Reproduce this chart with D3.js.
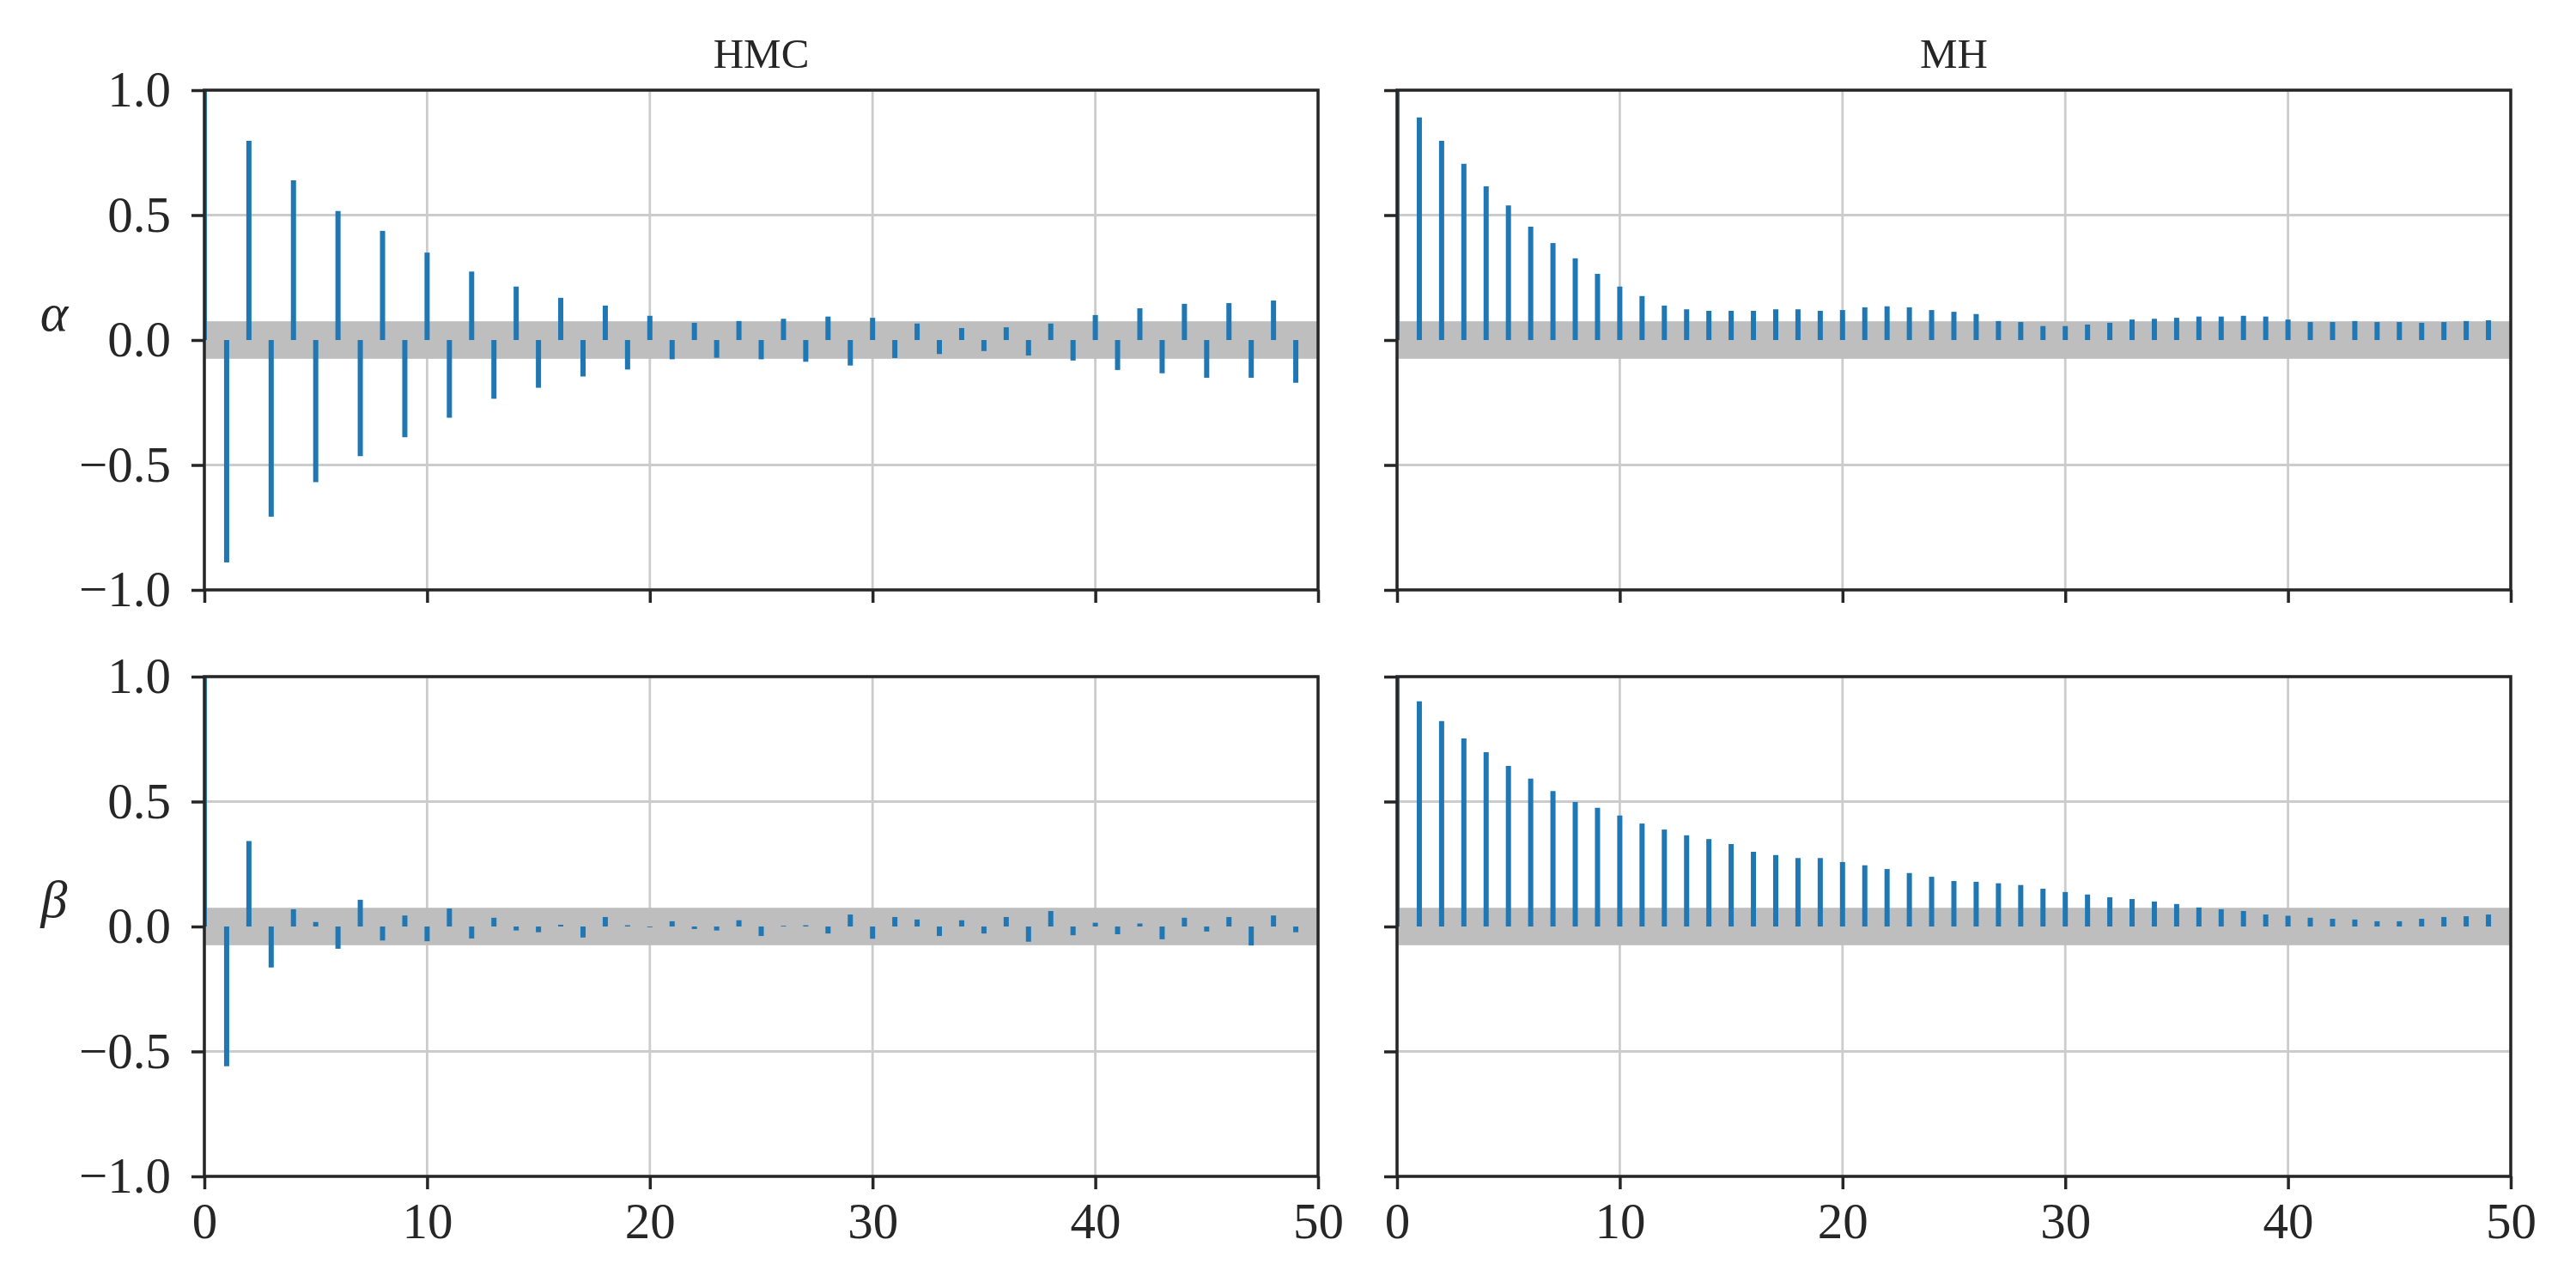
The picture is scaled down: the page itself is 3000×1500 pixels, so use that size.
<!DOCTYPE html>
<html>
<head>
<meta charset="utf-8">
<script src="https://cdn.jsdelivr.net/npm/d3@7"></script>
<style>
body { margin: 0; background: #fff; }
</style>
</head>
<body>
<svg width="3000" height="1500"></svg>
<script>
// autocorrelation per lag, lag 0..49
var lags = d3.range(0, 50);

var hmcAlpha = [1.0, -0.89, 0.797, -0.707, 0.639, -0.569, 0.516, -0.465, 0.437, -0.389,
    0.350, -0.311, 0.274, -0.235, 0.214, -0.191, 0.169, -0.146, 0.138, -0.118,
    0.097, -0.077, 0.069, -0.071, 0.076, -0.077, 0.085, -0.087, 0.094, -0.102,
    0.089, -0.072, 0.066, -0.056, 0.048, -0.044, 0.051, -0.062, 0.066, -0.082,
    0.100, -0.120, 0.127, -0.133, 0.145, -0.151, 0.148, -0.151, 0.158, -0.171];

var mhAlpha = [1.0, 0.891, 0.797, 0.705, 0.615, 0.539, 0.454, 0.388, 0.327, 0.265,
    0.214, 0.176, 0.138, 0.123, 0.117, 0.117, 0.117, 0.123, 0.123, 0.117,
    0.120, 0.131, 0.135, 0.131, 0.120, 0.113, 0.104, 0.076, 0.072, 0.056,
    0.056, 0.062, 0.069, 0.082, 0.085, 0.089, 0.094, 0.094, 0.097, 0.094,
    0.082, 0.072, 0.072, 0.076, 0.072, 0.072, 0.069, 0.072, 0.076, 0.079];

var hmcBeta = [1.0, -0.559, 0.342, -0.164, 0.069, 0.018, -0.089, 0.107, -0.056, 0.044,
    -0.059, 0.072, -0.048, 0.035, -0.016, -0.023, 0.007, -0.044, 0.038, 0.005,
    -0.003, 0.021, -0.010, -0.016, 0.025, -0.038, 0.003, 0.005, -0.028, 0.048,
    -0.049, 0.038, 0.028, -0.038, 0.025, -0.028, 0.038, -0.061, 0.062, -0.035,
    0.015, -0.031, 0.012, -0.051, 0.035, -0.020, 0.038, -0.076, 0.044, -0.023];

var mhBeta = [1.0, 0.901, 0.822, 0.753, 0.698, 0.643, 0.592, 0.542, 0.498, 0.475,
    0.444, 0.412, 0.388, 0.365, 0.350, 0.330, 0.299, 0.286, 0.274, 0.274,
    0.258, 0.245, 0.230, 0.214, 0.199, 0.182, 0.179, 0.173, 0.166, 0.151,
    0.138, 0.128, 0.117, 0.110, 0.100, 0.090, 0.076, 0.069, 0.062, 0.048,
    0.043, 0.035, 0.031, 0.028, 0.021, 0.021, 0.031, 0.038, 0.041, 0.048];

var samplers = ['HMC', 'MH'];
var params = ['\u03b1', '\u03b2'];
var series = [[hmcAlpha, mhAlpha], [hmcBeta, mhBeta]];
var band = 0.075;   // confidence band half width
var xTicks = [0, 10, 20, 30, 40, 50];
var yTicks = [-1, -0.5, 0, 0.5, 1];

var svg = d3.select('svg');
var defs = svg.append('defs');

var colX = [238, 1627];
var rowY = [105, 788];
var w = 1297;
var h = 582;
var ink = '#262626';
var font = '"Liberation Serif", "DejaVu Serif", serif';

var x = d3.scaleLinear().domain([0, 50]).range([0, w]);
var y = d3.scaleLinear().domain([-1, 1]).range([h, 0]);

defs.append('clipPath')
    .attr('id', 'plotclip')
    .append('rect')
    .attr('width', w)
    .attr('height', h);

function styleAxis(sel) {
    sel.select('.domain').remove();
    sel.selectAll('.tick line')
        .attr('stroke', ink)
        .attr('stroke-width', 3.5);
    sel.selectAll('.tick text')
        .attr('fill', ink)
        .style('font-family', font)
        .style('font-size', '59px');
}

for (var r = 0; r < 2; r++) {
    for (var c = 0; c < 2; c++) {
        var vals = series[r][c];
        var g = svg.append('g')
            .attr('transform', 'translate(' + colX[c] + ',' + rowY[r] + ')');

        // grid
        g.selectAll('.gx')
            .data(xTicks)
            .enter()
            .append('line')
            .attr('x1', function(d){ return x(d); })
            .attr('x2', function(d){ return x(d); })
            .attr('y1', 0)
            .attr('y2', h)
            .attr('stroke', '#cccccc')
            .attr('stroke-width', 2.8);

        g.selectAll('.gy')
            .data(yTicks)
            .enter()
            .append('line')
            .attr('x1', 0)
            .attr('x2', w)
            .attr('y1', function(d){ return y(d); })
            .attr('y2', function(d){ return y(d); })
            .attr('stroke', '#cccccc')
            .attr('stroke-width', 2.8);

        // confidence band
        g.append('rect')
            .attr('x', 0)
            .attr('width', w)
            .attr('y', y(band))
            .attr('height', y(-band) - y(band))
            .attr('fill', '#bebebe');

        // acf bars
        g.append('g')
            .attr('clip-path', 'url(#plotclip)')
            .selectAll('line')
            .data(vals)
            .enter()
            .append('line')
            .attr('x1', function(d, i){ return x(lags[i]); })
            .attr('x2', function(d, i){ return x(lags[i]); })
            .attr('y1', y(0))
            .attr('y2', function(d){ return y(d); })
            .attr('stroke', '#1f77b4')
            .attr('stroke-width', 6);

        // axes
        var xAxis = d3.axisBottom(x)
            .tickValues(xTicks)
            .tickSize(15)
            .tickPadding(15);
        if (r === 0) xAxis.tickFormat('');

        var yAxis = d3.axisLeft(y)
            .tickValues(yTicks)
            .tickSize(15)
            .tickPadding(24)
            .tickFormat(d3.format('.1f'));
        if (c === 1) yAxis.tickFormat('');

        g.append('g')
            .attr('transform', 'translate(0,' + h + ')')
            .call(xAxis)
            .call(styleAxis);

        g.append('g')
            .call(yAxis)
            .call(styleAxis);

        // spines
        g.append('rect')
            .attr('width', w)
            .attr('height', h)
            .attr('fill', 'none')
            .attr('stroke', ink)
            .attr('stroke-width', 3.5);

        if (r === 0) {
            svg.append('text')
                .attr('x', colX[c] + w / 2)
                .attr('y', 79)
                .attr('text-anchor', 'middle')
                .attr('fill', ink)
                .style('font-family', font)
                .style('font-size', '49px')
                .text(samplers[c]);
        }

        if (c === 0) {
            svg.append('text')
                .attr('x', 63)
                .attr('y', rowY[r] + y(0) - 11)
                .attr('text-anchor', 'middle')
                .attr('fill', ink)
                .style('font-family', font)
                .style('font-style', 'italic')
                .style('font-size', '62px')
                .text(params[r]);
        }
    }
}
</script>
</body>
</html>
